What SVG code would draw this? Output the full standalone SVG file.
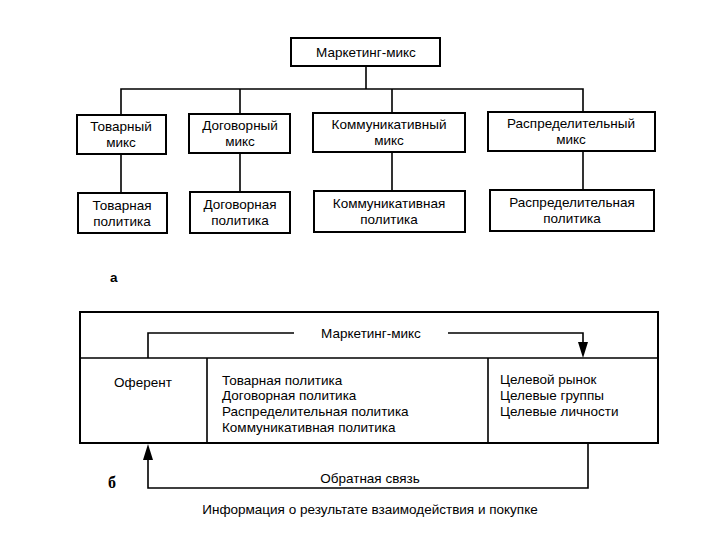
<svg xmlns="http://www.w3.org/2000/svg" width="720" height="540" viewBox="0 0 720 540">
<style>
.b{fill:#fff;stroke:#000;stroke-width:2}
.l{fill:none;stroke:#000;stroke-width:1.6}
text{font-family:"Liberation Sans",Arial,sans-serif;font-size:13.5px;fill:#000}
.c{text-anchor:middle}
</style>
<rect width="720" height="540" fill="#fff"/>
<g id="top"><rect class="b" x="291" y="38" width="149" height="28"/><text class="c" x="366" y="57">Маркетинг-микс</text></g>
<g id="m1"><rect class="b" x="77" y="115" width="89" height="39"/><text class="c" x="121" y="131">Товарный</text><text class="c" x="121" y="147">микс</text></g>
<g id="m2"><rect class="b" x="189" y="114" width="101" height="39"/><text class="c" x="240" y="130">Договорный</text><text class="c" x="240" y="146">микс</text></g>
<g id="m3"><rect class="b" x="313" y="113" width="152" height="39"/><text class="c" x="389" y="129">Коммуникативный</text><text class="c" x="389" y="145">микс</text></g>
<g id="m4"><rect class="b" x="488" y="112" width="167" height="39"/><text class="c" x="571" y="128">Распределительный</text><text class="c" x="571" y="144">микс</text></g>
<g id="p1"><rect class="b" x="78" y="193" width="89" height="40"/><text class="c" x="122" y="210">Товарная</text><text class="c" x="122" y="226">политика</text></g>
<g id="p2"><rect class="b" x="190" y="192" width="100" height="41"/><text class="c" x="240" y="209">Договорная</text><text class="c" x="240" y="225">политика</text></g>
<g id="p3"><rect class="b" x="314" y="191" width="151" height="41"/><text class="c" x="389" y="208">Коммуникативная</text><text class="c" x="389" y="224">политика</text></g>
<g id="p4"><rect class="b" x="490" y="190" width="164" height="41"/><text class="c" x="572" y="207">Распределительная</text><text class="c" x="572" y="223">политика</text></g>
<text x="110" y="282" style="font-weight:bold">а</text>
<g id="bottom">
<rect class="b" x="80" y="312" width="578" height="131"/>
<path class="l" d="M80,358 H658 M207,358 V443 M488,358 V443"/>
<text class="c" x="371" y="338">Маркетинг-микс</text>
<text class="c" x="143" y="387">Оферент</text>
<text x="222" y="385">Товарная политика</text>
<text x="222" y="400">Договорная политика</text>
<text x="222" y="416">Распределительная политика</text>
<text x="222" y="432">Коммуникативная политика</text>
<text x="500" y="384">Целевой рынок</text>
<text x="500" y="400">Целевые группы</text>
<text x="500" y="416">Целевые личности</text>
<text class="c" x="370" y="483">Обратная связь</text>
<text x="108" y="488" style="font-family:'Liberation Serif',serif;font-weight:bold;font-size:16px">б</text>
<text class="c" x="370" y="514">Информация о результате взаимодействия и покупке</text>
</g>
<g id="connectors">
<path class="l" d="M366,66 V89 M121,115 V89 H583 V112 M240,89 V114 M392,89 V113 M121,154 V193 M240,153 V192 M392,152 V191 M583,151 V190"/>
<path class="l" d="M148,358 V333 H294"/>
<path class="l" d="M448,333 H583 V343"/>
<path d="M583,358 l-5,-16 h10 z" fill="#000"/>
<path class="l" d="M588,443 V488 H148 V460"/>
<path d="M148,444 l-5,16 h10 z" fill="#000"/>
</g>
</svg>
